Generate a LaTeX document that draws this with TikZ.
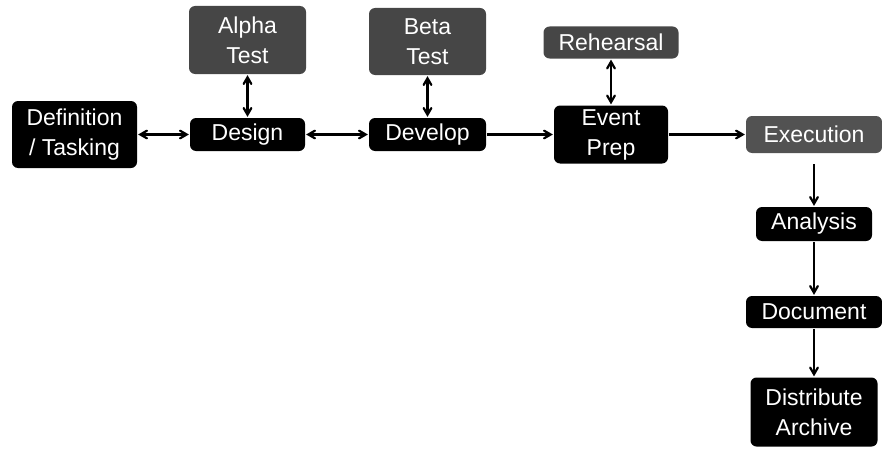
\documentclass[tikz,border=0pt]{standalone}
\usepackage{fontspec}
\setmainfont{Liberation Sans}
\usepackage{xcolor}
\usetikzlibrary{arrows}

\definecolor{boxgray}{HTML}{464646}
\definecolor{exegray}{HTML}{525252}

\tikzset{
  box/.style={rectangle, rounded corners=6pt, text=white, align=center,
    inner sep=0pt, font=\fontsize{23}{30}\selectfont},
  blk/.style={box, fill=black},
  gry/.style={box, fill=boxgray},
  every edge/.style={draw, line width=2.2pt},
}

\begin{document}
\begin{tikzpicture}[x=1pt, y=1pt, <->, >=angle 60, line width=2.2pt, node distance=180pt]
  \useasboundingbox (0,0) rectangle (882,-452);

  \node[blk, minimum width=125pt, minimum height=67pt] (Def) at (74.5,-134.5) {Definition\\/ Tasking};
  \node[node distance=173pt, blk, minimum width=115pt, minimum height=33pt] (Des) [right of=Def] {Design};
  \node[blk, minimum width=117pt, minimum height=33pt] (Dev) [right of=Des] {Develop};
  \node[node distance=183.5pt, blk, minimum width=114pt, minimum height=58pt] (Evt) [right of=Dev] {Event\\Prep};
  \node[node distance=203pt, box, fill=exegray, minimum width=136pt, minimum height=37pt] (Exe) [right of=Evt] {Execution};

  \node[node distance=94.5pt, gry, minimum width=117pt, minimum height=68pt] (Alp) [above of=Des] {Alpha\\Test};
  \node[node distance=93pt, gry, minimum width=117pt, minimum height=67pt] (Bet) [above of=Dev] {Beta\\Test};
  \node[node distance=92pt, gry, minimum width=135pt, minimum height=32pt] (Reh) [above of=Evt] {Rehearsal};

  \node[node distance=89.5pt, blk, minimum width=116pt, minimum height=34pt] (Ana) [below of=Exe] {Analysis};
  \node[node distance=88pt, blk, minimum width=136pt, minimum height=32pt] (Doc) [below of=Ana] {Document};
  \node[node distance=100pt, blk, minimum width=127pt, minimum height=69pt] (Dis) [below of=Doc] {Distribute\\Archive};

  \path (Def) edge (Des)
        (Des) edge (Dev)
        (Alp) edge (Des)
        (Bet) edge (Dev)
        (Reh) edge (Evt)
        (Dev) edge [->] (Evt)
        (Evt) edge [->] (Exe)
        (Exe) edge [->, shorten <=10pt] (Ana)
        (Ana) edge [->] (Doc)
        (Doc) edge [->] (Dis)
        ;
\end{tikzpicture}
\end{document}
